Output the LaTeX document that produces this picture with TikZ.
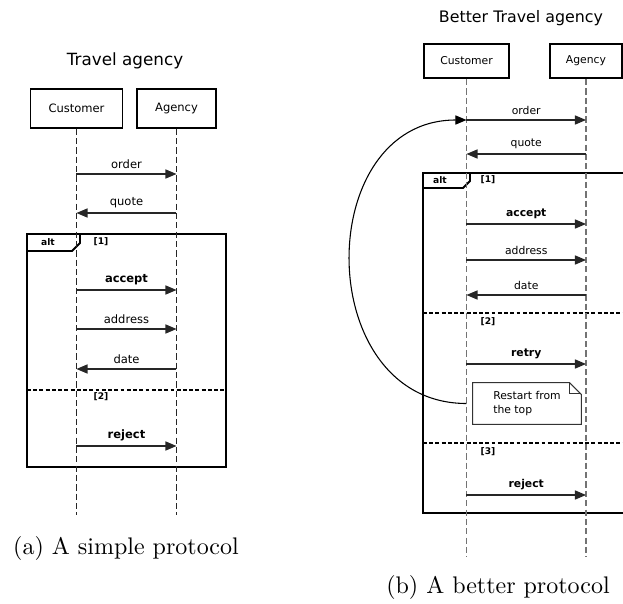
\documentclass[tikz,border=0pt]{standalone}
\usepackage{fontspec}
\usepackage{tikz}
\usetikzlibrary{arrows.meta,positioning}
\newfontfamily\diafont{DejaVu Sans}

\begin{document}
\begin{tikzpicture}[x=0.4167pt,y=-0.4167pt,>={Triangle[length=4.6pt,width=3.8pt]},
    actor/.style={draw,line width=0.8pt,inner xsep=7.5pt,minimum height=16pt,font={\diafont\fontsize{4.8}{5.8}\selectfont}},
    actor small/.style={actor,inner xsep=6.8pt,minimum height=14.2pt,font={\diafont\fontsize{4.5}{5.4}\selectfont}},
    life/.style={draw=black!85,line width=0.5pt,dash pattern=on 2.6pt off 1.3pt},
    msg/.style={->,draw=black!85,line width=0.45pt},
    lbl/.style={above,inner sep=1.8pt,font={\diafont\fontsize{4.8}{5.8}\selectfont}},
    lbl small/.style={lbl,font={\diafont\fontsize{4.5}{5.4}\selectfont}},
    frame/.style={draw,line width=0.8pt},
    sep/.style={draw,line width=0.7pt,dash pattern=on 1.6pt off 1pt},
    tag/.style={inner sep=0pt,font={\diafont\bfseries\fontsize{3.8}{4.5}\selectfont}}]
  \useasboundingbox (0,0) rectangle (623,604);

  % (a) simple protocol
  \node[font={\diafont\fontsize{7}{8.4}\selectfont}] (titleA) at (125,61) {Travel agency};
  \node[actor] (custA) at (76.5,108.5) {Customer};
  \node[actor] (agA) at (176.5,108.5) {Agency};
  \coordinate (endA) at (0,515);

  \draw[frame] (27,234) rectangle (226,467);
  \draw[frame] (27,251) -- (72,251) -- (80,243) -- (80,234);
  \node[tag] (altA) at (48,242) {alt};
  \node[tag] (gA1) at (101,242) {[1]};
  \draw[sep] (27,390) -- (226,390);
  \node[tag] (gA2) at (101,397) {[2]};

  \draw[life] (custA) -- (custA |- endA);
  \draw[life] (agA) -- (agA |- endA);

  \draw[msg] (custA |- 0,174) -- node[lbl] {order} (agA |- 0,174);
  \draw[msg] (agA |- 0,213) -- node[lbl] {quote} (custA |- 0,213);
  \draw[msg] (custA |- 0,290) -- node[lbl] {\textbf{accept}} (agA |- 0,290);
  \draw[msg] (custA |- 0,329) -- node[lbl] {address} (agA |- 0,329);
  \draw[msg] (agA |- 0,369) -- node[lbl] {date} (custA |- 0,369);
  \draw[msg] (custA |- 0,446) -- node[lbl] {\textbf{reject}} (agA |- 0,446);

  \node[font=\fontsize{10}{12}\selectfont] (capA) at (126,548) {(a) A simple protocol};

  % (b) better protocol
  \node[font={\diafont\fontsize{6.6}{8}\selectfont}] (titleB) at (521,18) {Better Travel agency};
  \node[actor small] (custB) at (466.5,61) {Customer};
  \node[actor small] (agB) at (586,61) {Agency};
  \coordinate (endB) at (0,557);

  \draw[frame] (623,173) -- (423,173) -- (423,513) -- (623,513);
  \draw[frame] (423,188) -- (463,188) -- (470,181) -- (470,173);
  \node[tag] (altB) at (440,180) {alt};
  \node[tag] (gB1) at (488,180) {[1]};
  \draw[sep] (423,313) -- (623,313);
  \node[tag] (gB2) at (488,322) {[2]};
  \draw[sep] (423,443) -- (623,443);
  \node[tag] (gB3) at (488,452) {[3]};

  \draw[life,draw=black!55] (custB) -- (custB |- endB);
  \draw[life,draw=black!55] (agB) -- (agB |- endB);

  \draw[msg] (custB |- 0,120) -- node[lbl small] {order} (agB |- 0,120);
  \draw[msg] (agB |- 0,154) -- node[lbl small] {quote} (custB |- 0,154);
  \draw[msg] (custB |- 0,224) -- node[lbl small] {\textbf{accept}} (agB |- 0,224);
  \draw[msg] (custB |- 0,260) -- node[lbl small] {address} (agB |- 0,260);
  \draw[msg] (agB |- 0,295) -- node[lbl small] {date} (custB |- 0,295);
  \draw[msg] (custB |- 0,364) -- node[lbl small] {\textbf{retry}} (agB |- 0,364);
  \draw[msg] (custB |- 0,495) -- node[lbl small] {\textbf{reject}} (agB |- 0,495);

  % note with folded corner
  \node[minimum width=45pt,minimum height=17pt,align=left,inner sep=0pt,
        font={\diafont\fontsize{4.5}{5.6}\selectfont}] (note) at (527,403.5) {Restart from\\the top};
  \draw[black!80,line width=0.4pt] (note.south west) -- (note.north west) -- ([xshift=-5pt]note.north east)
    -- ([yshift=-5pt]note.north east) -- (note.south east) -- cycle;
  \draw[black!80,line width=0.4pt] ([xshift=-5pt]note.north east) -- ([xshift=-5pt,yshift=-4.6pt]note.north east)
    -- ([yshift=-4.6pt]note.north east);
  \coordinate (restart) at (custB |- note.west);
  \draw[->,line width=0.45pt] (restart) to[out=180,in=180,looseness=1.4] (custB |- 0,120);

  \node[font=\fontsize{10}{12}\selectfont] (capB) at (498,587) {(b) A better protocol};
\end{tikzpicture}
\end{document}
